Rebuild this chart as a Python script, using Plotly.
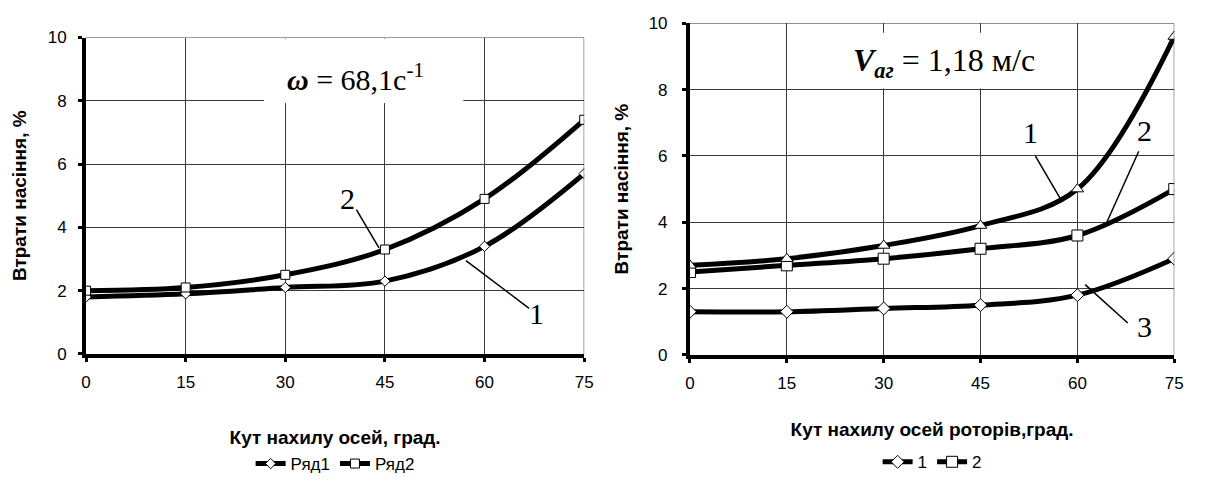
import plotly.graph_objects as go

# ---------------- data ----------------
angles = [0, 15, 30, 45, 60, 75]

# left chart (omega = 68.1 1/s)
left_row1 = [1.8, 1.9, 2.1, 2.3, 3.4, 5.7]
left_row2 = [2.0, 2.1, 2.5, 3.3, 4.9, 7.4]
left_names = ["Ряд1", "Ряд2"]

# right chart (V = 1.18 m/s)
right_s1 = [2.7, 2.9, 3.3, 3.9, 5.0, 9.6]   # triangles, curve "1"
right_s2 = [2.5, 2.7, 2.9, 3.2, 3.6, 5.0]   # squares, curve "2"
right_s3 = [1.3, 1.3, 1.4, 1.5, 1.8, 2.9]   # diamonds, curve "3"
right_names = ["1", "2"]

x_ticks = [0, 15, 30, 45, 60, 75]
y_ticks = [0, 2, 4, 6, 8, 10]

left_xtitle = "Кут нахилу осей, град."
right_xtitle = "Кут нахилу осей роторів,град."
ytitle = "Втрати насіння, %"

# curve labels: (text, label x, label y, leader from x,y, leader to x,y)
left_labels = [
    ("2", 39.3, 4.9, 40.7, 4.56, 44.1, 3.35),
    ("1", 67.8, 1.29, 66.7, 1.44, 57.2, 2.95),
]
right_labels = [
    ("1", 52.7, 6.7, 53.5, 5.99, 57.4, 4.70),
    ("2", 70.4, 6.76, 69.5, 6.14, 64.4, 3.93),
    ("3", 70.4, 0.87, 67.8, 0.96, 61.2, 2.12),
]

# ---------------- figure ----------------
W, H = 1206, 482
LW = 5
fig = go.Figure()

def mk(symbol, size):
    return dict(symbol=symbol, size=size, color="white",
                line=dict(color="black", width=1))

fig.add_trace(go.Scatter(x=angles, y=left_row1, name=left_names[0], mode="lines+markers",
                         line=dict(color="black", width=LW, shape="spline", smoothing=1.0),
                         marker=mk("diamond", 8), xaxis="x", yaxis="y", legend="legend"))
fig.add_trace(go.Scatter(x=angles, y=left_row2, name=left_names[1], mode="lines+markers",
                         line=dict(color="black", width=LW, shape="spline", smoothing=1.0),
                         marker=mk("square", 9), xaxis="x", yaxis="y", legend="legend"))

fig.add_trace(go.Scatter(x=angles, y=right_s3, name=right_names[0], mode="lines+markers",
                         line=dict(color="black", width=LW, shape="spline", smoothing=1.0),
                         marker=mk("diamond", 10), xaxis="x2", yaxis="y2", legend="legend2"))
fig.add_trace(go.Scatter(x=angles, y=right_s2, name=right_names[1], mode="lines+markers",
                         line=dict(color="black", width=LW, shape="spline", smoothing=1.0),
                         marker=mk("square", 11), xaxis="x2", yaxis="y2", legend="legend2"))
fig.add_trace(go.Scatter(x=angles, y=right_s1, name="3", mode="lines+markers", showlegend=False,
                         line=dict(color="black", width=LW, shape="spline", smoothing=1.0),
                         marker=mk("triangle-up", 11), xaxis="x2", yaxis="y2"))

# plot areas in pixels
L = dict(x0=82, x1=586, y0=30, y1=363)
R = dict(x0=693, x1=1183, y0=15, y1=364)

def px(p):
    return p / W

def py(p):
    return 1 - p / H

def dom_x(a):
    return [px(a["x0"]), px(a["x1"])]

def dom_y(a):
    return [py(a["y1"]), py(a["y0"])]

tickfont = dict(family="Liberation Sans, Arial", size=17, color="black")
titlefont = dict(family="Liberation Sans, Arial", size=19, color="black")

def xax(dom, title, standoff, anchor):
    return dict(domain=dom, range=[0, 75], tickmode="array", tickvals=x_ticks,
                showgrid=True, gridcolor="#3a3a3a", gridwidth=1, zeroline=False,
                showline=True, linecolor="black", linewidth=4,
                ticks="outside", ticklen=4, tickwidth=3, tickcolor="black",
                ticklabelstandoff=6,
                tickfont=tickfont, anchor=anchor,
                title=dict(text="<b>" + title + "</b>", font=titlefont, standoff=standoff))

def yax(dom, standoff, anchor, tls):
    return dict(domain=dom, range=[0, 10], tickmode="array", tickvals=y_ticks,
                showgrid=True, gridcolor="#3a3a3a", gridwidth=1, zeroline=False,
                showline=True, linecolor="black", linewidth=4,
                ticks="outside", ticklen=4, tickwidth=3, tickcolor="black",
                ticklabelstandoff=tls,
                tickfont=tickfont, anchor=anchor,
                title=dict(text="<b>" + ytitle + "</b>", font=titlefont, standoff=standoff))

legfont = dict(family="Liberation Sans, Arial", size=17, color="black")
fig.update_layout(
    width=W, height=H,
    margin=dict(l=0, r=0, t=0, b=0),
    paper_bgcolor="white", plot_bgcolor="white",
    xaxis=xax(dom_x(L), left_xtitle, 40, "y"),
    yaxis=yax(dom_y(L), 17, "x", 8),
    xaxis2=xax(dom_x(R), right_xtitle, 31, "y2"),
    yaxis2=yax(dom_y(R), 16, "x2", 11),
    legend=dict(orientation="h", x=px((L["x0"] + L["x1"]) / 2), xanchor="center",
                y=py(479), yanchor="middle", font=legfont,
                bgcolor="rgba(0,0,0,0)", tracegroupgap=0),
    legend2=dict(orientation="h", x=px((R["x0"] + R["x1"]) / 2), xanchor="center",
                 y=py(477), yanchor="middle", font=legfont,
                 bgcolor="rgba(0,0,0,0)", tracegroupgap=0),
    showlegend=True,
)

shapes = []
# white boxes behind the formula texts (hide gridlines)
shapes.append(dict(type="rect", xref="x", yref="y", x0=26.8, x1=56.8, y0=7.93, y1=9.97,
                   fillcolor="white", line=dict(width=0), layer="between"))
shapes.append(dict(type="rect", xref="x2", yref="y2", x0=21.0, x1=56.9, y0=8.03, y1=9.71,
                   fillcolor="white", line=dict(width=0), layer="between"))
# thin top/right frame
for xr, yr in (("x", "y"), ("x2", "y2")):
    shapes.append(dict(type="line", xref=xr, yref=yr, x0=0, x1=75, y0=10, y1=10,
                       line=dict(color="#3a3a3a", width=1)))
    shapes.append(dict(type="line", xref=xr, yref=yr, x0=75, x1=75, y0=0, y1=10,
                       line=dict(color="#3a3a3a", width=1)))
# leader lines
for (t, lx, ly, fx, fy, tx, ty) in left_labels:
    shapes.append(dict(type="line", xref="x", yref="y", x0=fx, y0=fy, x1=tx, y1=ty,
                       line=dict(color="black", width=1.5)))
for (t, lx, ly, fx, fy, tx, ty) in right_labels:
    shapes.append(dict(type="line", xref="x2", yref="y2", x0=fx, y0=fy, x1=tx, y1=ty,
                       line=dict(color="black", width=1.5)))
fig.update_layout(shapes=shapes)

serif = "Liberation Serif, Times New Roman"
annots = []
for (t, lx, ly, fx, fy, tx, ty) in left_labels:
    annots.append(dict(x=lx, y=ly, xref="x", yref="y", text=t, showarrow=False,
                       font=dict(family=serif, size=30, color="black")))
for (t, lx, ly, fx, fy, tx, ty) in right_labels:
    annots.append(dict(x=lx, y=ly, xref="x2", yref="y2", text=t, showarrow=False,
                       font=dict(family=serif, size=30, color="black")))
annots.append(dict(x=((355 - L["x0"]) / (L["x1"] - L["x0"])) * 75, y=(L["y1"] - 72) / (L["y1"] - L["y0"]) * 10,
                   xref="x", yref="y", showarrow=False,
                   text="<b><i>ω</i></b> = 68,1c<sup>-1</sup>",
                   font=dict(family=serif, size=30, color="black")))
annots.append(dict(x=((950 - R["x0"]) / (R["x1"] - R["x0"])) * 75, y=(R["y1"] - 56) / (R["y1"] - R["y0"]) * 10,
                   xref="x2", yref="y2", showarrow=False,
                   text="<b><i>V<sub>аг</sub></i></b> = 1,18 м/с",
                   font=dict(family=serif, size=32, color="black")))
fig.update_layout(annotations=annots)

fig.write_html("out.html", config={"displayModeBar": False},
               post_script="document.body.style.margin='0px';document.body.style.overflow='hidden';")
